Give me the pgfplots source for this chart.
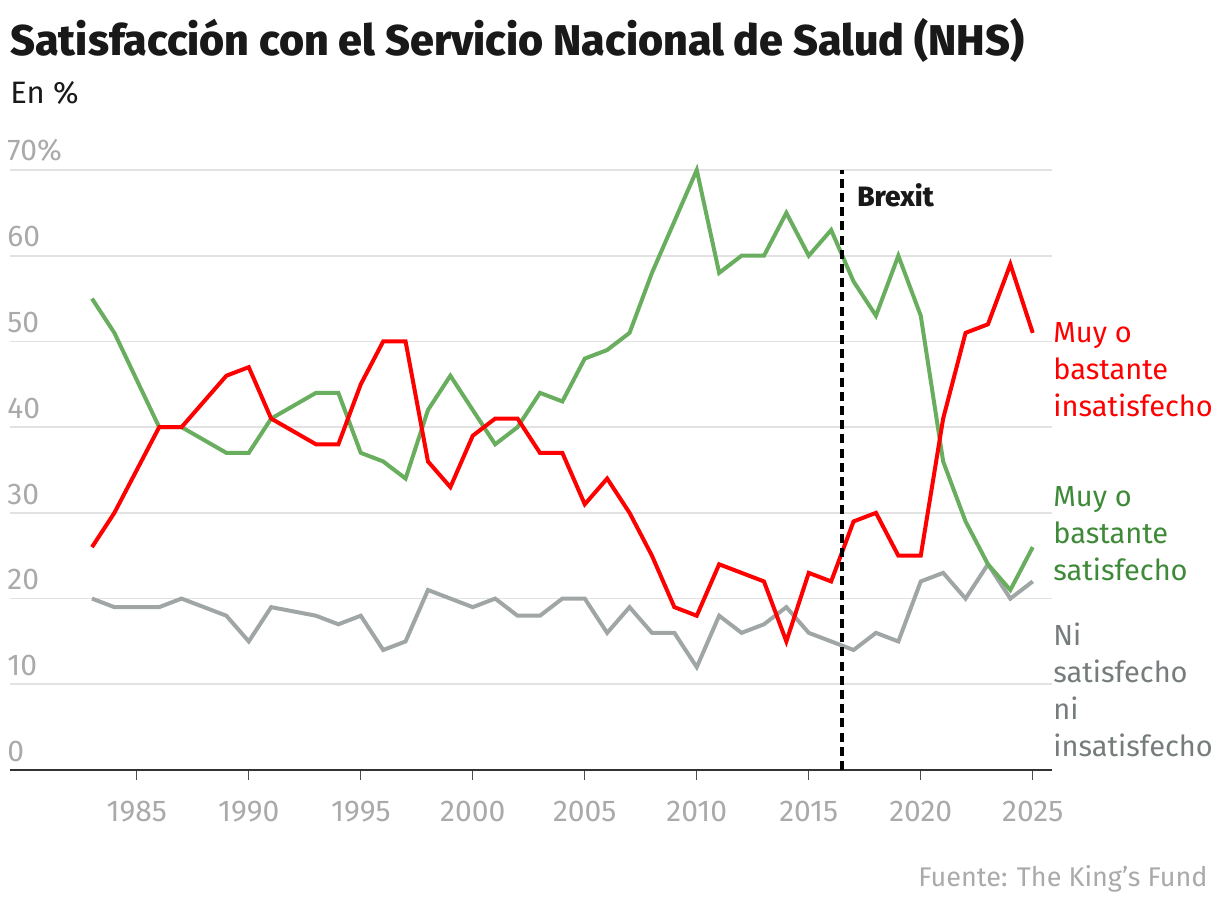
\documentclass[border=0pt]{standalone}
\usepackage{pgfplots}
\usepackage{pgfplotstable}
\pgfplotsset{compat=1.18}
\usepackage{fontspec}
\setmainfont{Fira Sans}
\newfontfamily\heavyfont{Fira Sans ExtraBold}
\definecolor{redl}{RGB}{255,0,0}
\definecolor{greenl}{RGB}{104,174,94}
\definecolor{greent}{RGB}{62,138,56}
\definecolor{grayl}{RGB}{160,166,166}
\definecolor{grayt}{RGB}{118,124,124}
\definecolor{tickc}{RGB}{170,170,170}
\definecolor{gridc}{RGB}{226,226,226}

\pgfplotstableread{
year sat dis nei
1983 55 26 20
1984 51 30 19
1986 40 40 19
1987 40 40 20
1989 37 46 18
1990 37 47 15
1991 41 41 19
1993 44 38 18
1994 44 38 17
1995 37 45 18
1996 36 50 14
1997 34 50 15
1998 42 36 21
1999 46 33 20
2000 42 39 19
2001 38 41 20
2002 40 41 18
2003 44 37 18
2004 43 37 20
2005 48 31 20
2006 49 34 16
2007 51 30 19
2008 58 25 16
2009 64 19 16
2010 70 18 12
2011 58 24 18
2012 60 23 16
2013 60 22 17
2014 65 15 19
2015 60 23 16
2016 63 22 15
2017 57 29 14
2018 53 30 16
2019 60 25 15
2020 53 25 22
2021 36 41 23
2022 29 51 20
2023 24 52 24
2024 21 59 20
2025 26 51 22
}\data

\begin{document}
\begin{tikzpicture}
\path[use as bounding box] (0pt,0pt) rectangle (610pt,453pt);
\begin{axis}[
  at={(5pt,68pt)}, anchor=south west, scale only axis,
  width=521pt, height=300pt,
  xmin=1979.34, xmax=2025.86, ymin=0, ymax=70,
  clip=false,
  axis x line*=bottom, axis y line*=left,
  x axis line style={draw=black!80, line width=1.4pt},
  y axis line style={draw=none},
  ytick={0,10,...,70},
  yticklabels={0,10,20,30,40,50,60,70\%},
  ytick style={draw=none},
  ymajorgrids, grid style={draw=gridc, line width=0.9pt},
  yticklabel style={anchor=south west, inner sep=0pt, xshift=3.5pt, yshift=4pt, text=tickc, font=\fontsize{15}{18}\selectfont},
  xtick={1985,1990,...,2025},
  xticklabels={1985,1990,1995,2000,2005,2010,2015,2020,2025},
  tick align=outside, major tick length=5pt,
  xtick style={draw=black!70, line width=0.7pt},
  xticklabel style={text=tickc, font=\fontsize{15}{18}\selectfont, yshift=-7pt},
]
\addplot[grayl, line width=2pt] table[x=year, y=nei] {\data};
\addplot[greenl, line width=2pt] table[x=year, y=sat] {\data};
\addplot[redl, line width=2pt] table[x=year, y=dis] {\data};
\addplot[black, line width=2pt, dash pattern=on 4.5pt off 2.6pt] coordinates {(2016.5,0) (2016.5,70)};
\node[anchor=base west, inner sep=0pt, font=\fontsize{14}{16}\selectfont\heavyfont, text=black!90] at (axis cs:2017.15,65.8) {Brexit};
\end{axis}
\node[anchor=base west, inner sep=0pt, font=\fontsize{21.5}{25}\selectfont\heavyfont, text=black!90] at (5pt,425pt) {Satisfacción con el Servicio Nacional de Salud (NHS)};
\node[anchor=base west, inner sep=0pt, font=\fontsize{15.5}{18}\selectfont, text=black!90] at (5pt,401pt) {En \%};
\node[anchor=base east, inner sep=0pt, font=\fontsize{13.5}{16}\selectfont, text=tickc] at (604pt,10pt) {Fuente: The King's Fund};
\node[anchor=north west, inner sep=0pt, align=left, text=redl, font=\fontsize{14.5}{18.5}\selectfont] at (526.5pt,292pt) {Muy o\\bastante\\insatisfecho};
\node[anchor=north west, inner sep=0pt, align=left, text=greent, font=\fontsize{14.5}{18.5}\selectfont] at (526.5pt,210pt) {Muy o\\bastante\\satisfecho};
\node[anchor=north west, inner sep=0pt, align=left, text=grayt, font=\fontsize{14.5}{18.5}\selectfont] at (526.5pt,142pt) {Ni\\satisfecho\\ni\\insatisfecho};
\end{tikzpicture}
\end{document}
